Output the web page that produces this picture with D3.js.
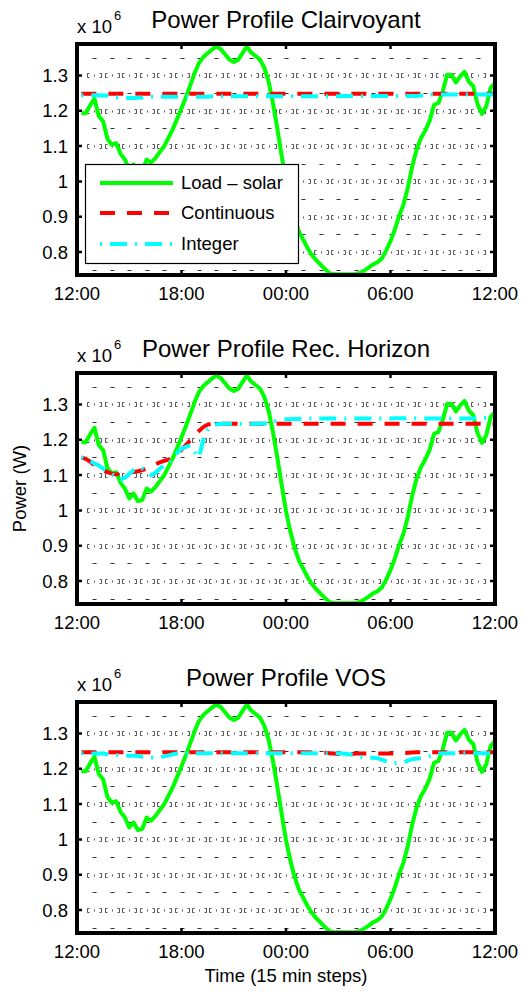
<!DOCTYPE html>
<html><head><meta charset="utf-8">
<script src="https://cdn.jsdelivr.net/npm/d3@7"></script>
<style>
body{margin:0;background:#fff}
svg{display:block}
text{font-family:"Liberation Sans",Arial,Helvetica,sans-serif;fill:#000}
</style>
</head><body>
<svg id="c" width="523" height="992"></svg>
<script>
// ---------------- data ----------------
const titles = ["Power Profile Clairvoyant", "Power Profile Rec. Horizon", "Power Profile VOS"];
const seriesNames = ["Load \u2013 solar", "Continuous", "Integer"];
const xTickSteps = [0, 24, 48, 72, 96];
const xTickLabels = ["12:00", "18:00", "00:00", "06:00", "12:00"];
const yTicks = [0.8, 0.9, 1, 1.1, 1.2, 1.3];
const yTickLabels = ["0.8", "0.9", "1", "1.1", "1.2", "1.3"];
const gridRows = [0.75, 0.8, 0.85, 0.9, 0.95, 1.0, 1.05, 1.1, 1.15, 1.2, 1.25, 1.3, 1.35];
const gridCols = [4, 8, 12, 16, 20, 24, 28, 32, 36, 40, 44, 48, 52, 56, 60, 64, 68, 72, 76, 80, 84, 88, 92];

// load minus solar (x 1e6 W), 96 quarter-hour steps
const loadSolar = [
  1.193,1.193,1.215,1.234,1.185,1.170,1.120,1.104,1.108,1.078,1.062,1.034,
  1.048,1.026,1.030,1.062,1.053,1.066,1.083,1.099,1.123,1.148,1.177,1.207,
  1.238,1.272,1.306,1.335,1.352,1.363,1.373,1.382,1.375,1.360,1.345,1.338,
  1.344,1.363,1.382,1.365,1.355,1.345,1.322,1.283,1.222,1.150,1.073,0.998,
  0.940,0.893,0.857,0.834,0.810,0.791,0.776,0.764,0.751,0.740,0.738,0.737,
  0.737,0.737,0.737,0.738,0.741,0.748,0.756,0.765,0.771,0.782,0.804,0.831,
  0.864,0.903,0.935,0.983,1.043,1.090,1.123,1.144,1.172,1.217,1.222,1.255,
  1.302,1.302,1.280,1.297,1.310,1.282,1.270,1.218,1.191,1.213,1.265,1.278
];
const clairContinuous = [
  1.248,1.248,1.248,1.248,1.248,1.248,1.248,1.248,1.248,1.248,1.248,1.248,
  1.248,1.248,1.248,1.248,1.248,1.248,1.248,1.248,1.248,1.248,1.248,1.248,
  1.248,1.248,1.248,1.248,1.248,1.248,1.248,1.248,1.248,1.248,1.248,1.248,
  1.248,1.248,1.248,1.248,1.248,1.248,1.248,1.248,1.248,1.248,1.248,1.248,
  1.248,1.248,1.248,1.248,1.248,1.248,1.248,1.248,1.248,1.248,1.248,1.248,
  1.248,1.248,1.248,1.248,1.248,1.248,1.248,1.248,1.248,1.248,1.248,1.248,
  1.248,1.248,1.248,1.248,1.248,1.248,1.248,1.248,1.248,1.248,1.248,1.248,
  1.248,1.248,1.248,1.248,1.248,1.248,1.248,1.248,1.248,1.248,1.248,1.248
];
const clairInteger = [
  1.244,1.244,1.244,1.244,1.244,1.243,1.243,1.242,1.238,1.237,1.237,1.236,
  1.236,1.237,1.237,1.239,1.240,1.240,1.240,1.240,1.240,1.240,1.240,1.240,
  1.240,1.240,1.240,1.240,1.240,1.240,1.241,1.241,1.241,1.241,1.241,1.241,
  1.241,1.241,1.241,1.241,1.241,1.241,1.241,1.241,1.241,1.241,1.241,1.241,
  1.241,1.241,1.241,1.241,1.241,1.241,1.241,1.241,1.241,1.241,1.241,1.241,
  1.242,1.242,1.242,1.242,1.242,1.242,1.242,1.242,1.242,1.242,1.242,1.242,
  1.242,1.242,1.242,1.242,1.242,1.242,1.243,1.244,1.246,1.246,1.246,1.246,
  1.246,1.246,1.246,1.246,1.246,1.246,1.246,1.246,1.246,1.246,1.246,1.246
];
const rhContinuous = [
  1.150,1.146,1.138,1.128,1.120,1.114,1.108,1.104,1.102,1.102,1.104,1.106,
  1.109,1.111,1.114,1.118,1.124,1.130,1.136,1.140,1.144,1.150,1.160,1.172,
  1.185,1.198,1.212,1.225,1.236,1.243,1.245,1.245,1.245,1.245,1.245,1.245,
  1.245,1.245,1.245,1.245,1.245,1.245,1.245,1.245,1.245,1.245,1.245,1.245,
  1.245,1.245,1.245,1.245,1.245,1.245,1.245,1.245,1.245,1.245,1.245,1.245,
  1.245,1.245,1.245,1.245,1.245,1.245,1.245,1.245,1.245,1.245,1.245,1.245,
  1.245,1.245,1.245,1.245,1.245,1.245,1.245,1.245,1.245,1.245,1.245,1.245,
  1.245,1.245,1.245,1.245,1.245,1.245,1.245,1.245,1.245,1.245,1.245,1.245
];
const rhInteger = [
  1.150,1.145,1.140,1.133,1.127,1.118,1.110,1.103,1.095,1.088,1.092,1.104,
  1.114,1.121,1.118,1.110,1.100,1.106,1.118,1.128,1.132,1.148,1.163,1.175,
  1.180,1.184,1.165,1.150,1.200,1.228,1.240,1.243,1.245,1.245,1.245,1.245,
  1.245,1.245,1.245,1.245,1.245,1.245,1.246,1.247,1.250,1.254,1.257,1.258,
  1.258,1.259,1.259,1.259,1.260,1.260,1.260,1.260,1.260,1.260,1.260,1.260,
  1.260,1.260,1.260,1.260,1.260,1.260,1.260,1.260,1.260,1.260,1.260,1.260,
  1.261,1.261,1.261,1.261,1.261,1.261,1.260,1.260,1.260,1.260,1.260,1.260,
  1.260,1.260,1.260,1.260,1.260,1.260,1.260,1.261,1.261,1.262,1.263,1.264
];
const vosContinuous = [
  1.247,1.247,1.247,1.247,1.247,1.247,1.247,1.247,1.247,1.247,1.247,1.247,
  1.247,1.247,1.247,1.247,1.247,1.247,1.247,1.247,1.247,1.247,1.247,1.247,
  1.247,1.247,1.247,1.247,1.247,1.247,1.247,1.247,1.247,1.247,1.247,1.247,
  1.247,1.247,1.247,1.247,1.247,1.247,1.247,1.247,1.247,1.247,1.247,1.247,
  1.247,1.247,1.247,1.247,1.247,1.246,1.246,1.245,1.245,1.244,1.243,1.242,
  1.242,1.242,1.242,1.243,1.243,1.243,1.243,1.243,1.243,1.243,1.243,1.243,
  1.243,1.243,1.244,1.245,1.246,1.247,1.247,1.247,1.247,1.247,1.247,1.247,
  1.247,1.247,1.247,1.247,1.247,1.247,1.247,1.247,1.247,1.247,1.247,1.247
];
const vosInteger = [
  1.244,1.244,1.243,1.243,1.243,1.243,1.241,1.240,1.239,1.238,1.238,1.237,
  1.237,1.236,1.234,1.233,1.232,1.232,1.233,1.235,1.238,1.241,1.243,1.244,
  1.244,1.244,1.244,1.244,1.244,1.244,1.244,1.244,1.244,1.244,1.244,1.244,
  1.244,1.244,1.244,1.244,1.244,1.244,1.244,1.244,1.244,1.244,1.244,1.244,
  1.244,1.244,1.244,1.244,1.244,1.244,1.244,1.244,1.244,1.244,1.244,1.244,
  1.243,1.242,1.240,1.237,1.234,1.232,1.231,1.231,1.230,1.226,1.221,1.217,
  1.216,1.217,1.219,1.223,1.227,1.229,1.230,1.232,1.236,1.240,1.243,1.244,
  1.244,1.244,1.244,1.244,1.244,1.244,1.244,1.244,1.244,1.244,1.244,1.244
];

// ---------------- layout ----------------
const panels = [
  {title: titles[0], cont: clairContinuous, integ: clairInteger, legend: true},
  {title: titles[1], cont: rhContinuous, integ: rhInteger, legend: false},
  {title: titles[2], cont: vosContinuous, integ: vosInteger, legend: false}
];
const colors = {load: "#00ff00", cont: "#ff0000", integ: "#00ffff"};
const contDash = "15,12";
const intDash = "2,8,17,8";
const panelTops = [44, 373, 702];
const axL = 77, axR = 495, axH = 231;
const yDomain = [0.735, 1.389];

const svg = d3.select("#c");
svg.append("rect").attr("width", 523).attr("height", 992).attr("fill", "#fff");

const x = d3.scaleLinear().domain([0, 96]).range([axL, axR]);

panels.forEach((p, i) => {
  const top = panelTops[i], bot = top + axH;
  const y = d3.scaleLinear().domain(yDomain).range([bot, top]);
  const g = svg.append("g");

  const clipId = "clip" + i;
  svg.append("clipPath").attr("id", clipId).append("rect")
    .attr("x", axL).attr("y", top).attr("width", axR - axL).attr("height", axH);

  // grid (dotted, rendered as sparse marks like the original)
  const grid = g.append("g").attr("clip-path", `url(#${clipId})`);
  gridRows.forEach(r => {
    const yy = Math.round(y(r)) + 0.5;
    const major = Math.abs(r * 10 - Math.round(r * 10)) < 1e-6;
    gridCols.forEach(c => {
      const xx = Math.round(x(c)) + 0.5;
      if (!major) {
        grid.append("path")
          .attr("d", `M${xx - 2},${yy}h4`)
          .attr("stroke", "#333").attr("stroke-width", 1).attr("fill", "none");
      } else {
        grid.append("path")
          .attr("d", `M${xx - 5},${yy - 2}h-2v4h2M${xx + 5},${yy - 2}h2v4h-2M${xx},${yy - 1}v2`)
          .attr("stroke", "#444").attr("stroke-width", 0.9).attr("fill", "none");
      }
    });
  });

  const line = d3.line().x((d, j) => x(j + 1)).y(d => y(d));
  const lines = g.append("g").attr("clip-path", `url(#${clipId})`);
  lines.append("path").datum(loadSolar).attr("d", line)
    .attr("fill", "none").attr("stroke", colors.load).attr("stroke-width", 4)
    .attr("stroke-linejoin", "round");
  lines.append("path").datum(p.cont).attr("d", line)
    .attr("fill", "none").attr("stroke", colors.cont).attr("stroke-width", 4)
    .attr("stroke-dasharray", contDash);
  lines.append("path").datum(p.integ).attr("d", line)
    .attr("fill", "none").attr("stroke", colors.integ).attr("stroke-width", 4)
    .attr("stroke-dasharray", intDash);

  // ticks (inside)
  yTicks.forEach(t => {
    const yy = y(t);
    g.append("path").attr("d", `M${axL},${yy}h5M${axR},${yy}h-5`)
      .attr("stroke", "#000").attr("stroke-width", 2.5);
  });
  xTickSteps.forEach(s => {
    const xx = x(s);
    g.append("path").attr("d", `M${xx},${bot}v-5M${xx},${top}v5`)
      .attr("stroke", "#000").attr("stroke-width", 2.5);
  });

  // box
  g.append("rect").attr("x", axL).attr("y", top).attr("width", axR - axL).attr("height", axH)
    .attr("fill", "none").attr("stroke", "#000").attr("stroke-width", 4);

  // tick labels
  yTicks.forEach((t, k) => {
    g.append("text").attr("x", 68).attr("y", y(t)).attr("dy", "0.35em")
      .attr("text-anchor", "end").attr("font-size", 18.5).text(yTickLabels[k]);
  });
  xTickSteps.forEach((s, k) => {
    g.append("text").attr("x", x(s)).attr("y", bot + 25)
      .attr("text-anchor", "middle").attr("font-size", 18.5).text(xTickLabels[k]);
  });

  // exponent label
  g.append("text").attr("x", axL).attr("y", top - 11).attr("font-size", 18.5).text("x 10");
  g.append("text").attr("x", axL + 37).attr("y", top - 24).attr("font-size", 13).text("6");

  // title
  g.append("text").attr("x", (axL + axR) / 2).attr("y", top - 16)
    .attr("text-anchor", "middle").attr("font-size", 24).text(p.title);

  // legend
  if (p.legend) {
    const lg = g.append("g");
    lg.append("rect").attr("x", 85.5).attr("y", 164.5).attr("width", 213).attr("height", 99)
      .attr("fill", "#fff").attr("stroke", "#000").attr("stroke-width", 1.2);
    const rowsY = [183, 213, 244];
    const styles = [
      {c: colors.load, d: null},
      {c: colors.cont, d: contDash},
      {c: colors.integ, d: intDash}
    ];
    rowsY.forEach((ry, k) => {
      const ln = lg.append("path").attr("d", `M100,${ry}H173`)
        .attr("stroke", styles[k].c).attr("stroke-width", 4).attr("fill", "none");
      if (styles[k].d) ln.attr("stroke-dasharray", styles[k].d);
      lg.append("text").attr("x", 181).attr("y", ry).attr("dy", "0.35em")
        .attr("font-size", 18.5).text(seriesNames[k]);
    });
  }
});

// axis labels
svg.append("text").attr("transform", `translate(26,${panelTops[1] + axH / 2}) rotate(-90)`)
  .attr("text-anchor", "middle").attr("font-size", 18.5).text("Power (W)");
svg.append("text").attr("x", (axL + axR) / 2).attr("y", 982)
  .attr("text-anchor", "middle").attr("font-size", 18.5).text("Time (15 min steps)");
</script>
</body></html>
